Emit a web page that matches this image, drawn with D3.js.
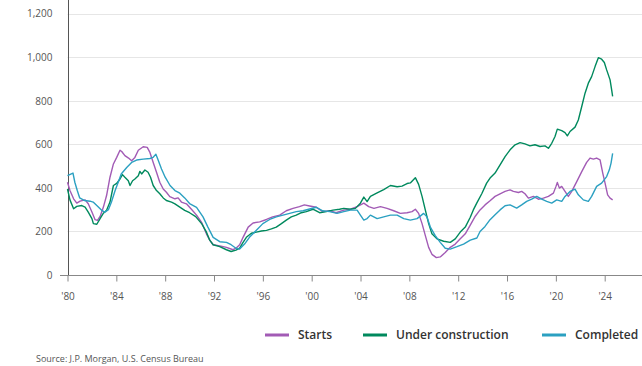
<!DOCTYPE html>
<meta charset="utf-8">
<style>
body { margin: 0; background: #fff; }
text { font-family: "Open Sans", sans-serif; }
.tick text { font-size: 10px; fill: #555; }
.legend text { font-size: 12px; font-weight: 600; fill: #333; }
.source { font-size: 9px; fill: #555; }
</style>
<body>
<div class="chart"></div>
<script src="https://cdn.jsdelivr.net/npm/d3@7"></script>
<script>

// multifamily housing, thousands of units, [year, value]
var starts = [
  [1980.0,426],[1980.2,388],[1980.5,350],[1980.76,330],[1981.03,339],[1981.44,345],[1981.7,327],
  [1982.0,289],[1982.26,254],[1982.45,251],[1982.67,269],[1982.94,312],[1983.2,365],[1983.48,449],
  [1983.76,510],[1984.03,540],[1984.3,573],[1984.44,567],[1984.7,548],[1985.0,537],[1985.25,525],
  [1985.52,540],[1985.8,573],[1986.2,589],[1986.53,586],[1986.75,563],[1987.02,517],[1987.29,472],
  [1987.56,426],[1987.84,395],[1988.1,380],[1988.38,360],[1988.8,350],[1989.06,354],[1989.33,335],
  [1989.74,327],[1990.15,302],[1990.57,275],[1991.0,240],[1991.38,189],[1991.65,160],[1991.93,139],
  [1992.47,134],[1993.02,127],[1993.56,116],[1993.8,123],[1994.1,139],[1994.38,173],[1994.8,220],
  [1995.2,239],[1995.74,244],[1996.3,255],[1996.8,267],[1997.38,275],[1997.92,295],[1998.47,306],
  [1999.0,314],[1999.4,322],[1999.83,317],[2000.38,311],[2000.9,291],[2001.47,295],[2002.0,286],
  [2002.63,298],[2003.17,302],[2003.72,314],[2004.0,322],[2004.27,330],[2004.67,314],[2005.1,306],
  [2005.63,314],[2006.17,306],[2006.72,295],[2007.26,283],[2007.81,286],[2008.22,291],[2008.49,302],
  [2008.76,283],[2009.04,236],[2009.31,181],[2009.58,127],[2009.85,95],[2010.21,80],[2010.53,83],
  [2010.94,103],[2011.35,127],[2011.76,142],[2012.17,166],[2012.58,189],[2013.0,230],[2013.4,270],
  [2013.79,299],[2014.2,322],[2014.61,341],[2015.02,361],[2015.43,373],[2015.84,384],[2016.25,391],
  [2016.52,384],[2016.93,379],[2017.2,384],[2017.47,373],[2017.75,353],[2018.16,361],[2018.57,348],
  [2018.98,353],[2019.39,361],[2019.8,376],[2020.01,407],[2020.12,425],[2020.29,399],[2020.48,407],
  [2020.75,384],[2021.02,361],[2021.3,384],[2021.71,429],[2022.12,475],[2022.52,517],[2022.8,537],
  [2023.07,532],[2023.34,537],[2023.62,529],[2023.84,468],[2024.03,422],[2024.24,368],[2024.44,353],
  [2024.65,345]
];

var underConstruction = [
  [1980.0,395],[1980.2,345],[1980.5,304],[1980.76,315],[1981.17,319],[1981.44,312],[1981.7,289],
  [1982.0,259],[1982.12,236],[1982.4,233],[1982.67,259],[1982.94,284],[1983.2,297],[1983.48,335],
  [1983.76,411],[1984.03,421],[1984.3,441],[1984.5,461],[1984.7,449],[1984.98,433],[1985.12,411],
  [1985.33,433],[1985.52,441],[1985.8,456],[1985.93,476],[1986.07,464],[1986.34,482],[1986.6,472],
  [1986.8,449],[1987.02,411],[1987.29,388],[1987.56,373],[1987.84,354],[1988.1,342],[1988.52,335],
  [1988.8,327],[1989.2,312],[1989.6,297],[1990.0,286],[1990.5,268],[1991.0,235],[1991.37,198],
  [1991.65,160],[1991.93,139],[1992.47,130],[1993.02,116],[1993.4,108],[1993.8,114],[1994.1,123],
  [1994.38,150],[1994.65,173],[1995.06,192],[1995.47,197],[1995.88,202],[1996.3,205],[1996.7,212],
  [1997.1,220],[1997.52,236],[1997.92,252],[1998.33,267],[1998.74,275],[1999.15,286],[1999.56,291],
  [2000.1,302],[2000.65,286],[2001.2,291],[2001.74,298],[2002.28,302],[2002.63,306],[2003.17,302],
  [2003.58,306],[2003.99,330],[2004.27,358],[2004.54,337],[2004.81,361],[2005.36,377],[2005.9,392],
  [2006.45,411],[2007.0,405],[2007.4,408],[2007.81,420],[2008.08,423],[2008.49,447],[2008.76,416],
  [2009.04,361],[2009.31,298],[2009.58,236],[2009.85,189],[2010.26,166],[2010.81,155],[2011.35,150],
  [2011.76,166],[2012.17,197],[2012.58,220],[2012.99,265],[2013.24,299],[2013.52,330],[2013.93,373],
  [2014.33,422],[2014.61,445],[2015.02,468],[2015.43,506],[2015.84,544],[2016.25,575],[2016.66,598],
  [2017.07,608],[2017.47,602],[2017.88,593],[2018.29,598],[2018.7,590],[2019.11,593],[2019.39,582],
  [2019.66,605],[2019.93,636],[2020.12,670],[2020.48,663],[2020.75,654],[2020.94,639],[2021.16,659],
  [2021.57,679],[2021.84,712],[2022.12,774],[2022.39,835],[2022.66,881],[2022.93,911],[2023.21,957],
  [2023.48,998],[2023.75,991],[2023.97,976],[2024.16,942],[2024.44,896],[2024.57,850],[2024.65,820]
];

var completed = [
  [1980.0,456],[1980.45,468],[1980.6,426],[1980.8,388],[1981.0,354],[1981.4,342],[1981.85,339],
  [1982.1,335],[1982.4,319],[1982.8,297],[1983.07,289],[1983.35,300],[1983.6,335],[1983.9,388],
  [1984.2,433],[1984.4,464],[1984.85,494],[1985.25,517],[1985.66,528],[1986.2,532],[1986.75,535],
  [1987.0,540],[1987.24,555],[1987.4,532],[1987.7,487],[1988.0,449],[1988.4,411],[1988.8,388],
  [1989.2,376],[1989.6,354],[1990.0,328],[1990.57,311],[1991.1,267],[1991.5,220],[1991.93,173],
  [1992.47,153],[1993.02,150],[1993.4,139],[1993.8,123],[1994.1,119],[1994.5,142],[1994.9,173],
  [1995.47,205],[1996.0,236],[1996.56,255],[1997.1,267],[1997.65,275],[1998.2,283],[1998.74,291],
  [1999.3,295],[1999.83,303],[2000.38,311],[2000.9,295],[2001.47,291],[2002.08,283],[2002.63,291],
  [2003.17,298],[2003.72,298],[2003.99,275],[2004.27,252],[2004.54,259],[2004.81,275],[2005.36,259],
  [2005.9,267],[2006.45,275],[2007.0,275],[2007.54,259],[2008.08,252],[2008.63,259],[2009.17,283],
  [2009.44,267],[2009.72,220],[2010.12,181],[2010.53,150],[2010.94,123],[2011.35,119],[2011.9,130],
  [2012.44,142],[2012.99,160],[2013.53,170],[2013.79,200],[2014.2,223],[2014.61,254],[2015.02,277],
  [2015.43,299],[2015.84,318],[2016.25,322],[2016.79,307],[2017.2,322],[2017.61,338],[2018.02,348],
  [2018.43,361],[2018.84,348],[2019.25,338],[2019.66,330],[2020.07,345],[2020.48,338],[2020.75,361],
  [2021.16,384],[2021.57,394],[2021.84,368],[2022.25,345],[2022.66,338],[2022.93,361],[2023.34,407],
  [2023.75,422],[2024.16,452],[2024.38,483],[2024.52,514],[2024.65,559]
];

var yTicks = [0, 200, 400, 600, 800, 1000, 1200];
var xTicks = [1980, 1984, 1988, 1992, 1996, 2000, 2004, 2008, 2012, 2016, 2020, 2024];

var series = [
  { name: "Starts", color: "#a25bb5", data: starts },
  { name: "Under construction", color: "#00895d", data: underConstruction },
  { name: "Completed", color: "#2ba0c1", data: completed }
];

var width = 642, height = 366;
var left = 67.5, right = 642, bottom = 275;

var x = d3.scaleLinear().domain([1980, 2024]).range([left, 604.7]);
var y = d3.scaleLinear().domain([0, 1200]).range([bottom, 13.7]);

var svg = d3.select(".chart").append("svg")
    .attr("width", width)
    .attr("height", height);

// gridlines
svg.append("g")
    .selectAll("line")
    .data(yTicks.filter(function(d) { return d > 0; }))
    .enter().append("line")
    .attr("x1", left).attr("x2", right)
    .attr("y1", function(d) { return Math.round(y(d)) + 0.5; })
    .attr("y2", function(d) { return Math.round(y(d)) + 0.5; })
    .attr("stroke", "#e6e6e6");

// y axis labels
var yAxis = svg.append("g")
    .attr("transform", "translate(" + left + ",0)")
    .call(d3.axisLeft(y).tickValues(yTicks).tickSize(0).tickPadding(15).tickFormat(d3.format(",")));
yAxis.select(".domain").remove();

svg.append("line")
    .attr("x1", Math.round(left) + 0.5).attr("x2", Math.round(left) + 0.5)
    .attr("y1", 0).attr("y2", bottom)
    .attr("stroke", "#555");

// x axis
var xAxis = svg.append("g")
    .attr("transform", "translate(0," + (bottom + 0.5) + ")")
    .call(d3.axisBottom(x).tickValues(xTicks).tickSize(6).tickPadding(11)
      .tickFormat(function(d) { return "'" + String(d).slice(2); }));
xAxis.select(".domain").remove();
xAxis.selectAll(".tick line").attr("stroke", "#888");
svg.append("line")
    .attr("x1", 60).attr("x2", right)
    .attr("y1", bottom + 0.5).attr("y2", bottom + 0.5)
    .attr("stroke", "#888");

var line = d3.line()
    .x(function(d) { return x(d[0]); })
    .y(function(d) { return y(d[1]); });

svg.append("g")
    .selectAll("path")
    .data(series)
    .enter().append("path")
    .attr("d", function(d) { return line(d.data); })
    .attr("fill", "none")
    .attr("stroke", function(d) { return d.color; })
    .attr("stroke-width", 1.4)
    .attr("stroke-linejoin", "round");

// legend
var legendX = [265, 363, 542];
var legend = svg.append("g").attr("class", "legend")
    .selectAll("g")
    .data(series)
    .enter().append("g")
    .attr("transform", function(d, i) { return "translate(" + legendX[i] + ",335)"; });

legend.append("line")
    .attr("x1", 0).attr("x2", 24)
    .attr("stroke", function(d) { return d.color; })
    .attr("stroke-width", 3);

legend.append("text")
    .attr("x", 33)
    .attr("dy", "0.36em")
    .text(function(d) { return d.name; });

svg.append("text")
    .attr("class", "source")
    .attr("x", 36)
    .attr("y", 362)
    .text("Source: J.P. Morgan, U.S. Census Bureau");

</script>
</body>
